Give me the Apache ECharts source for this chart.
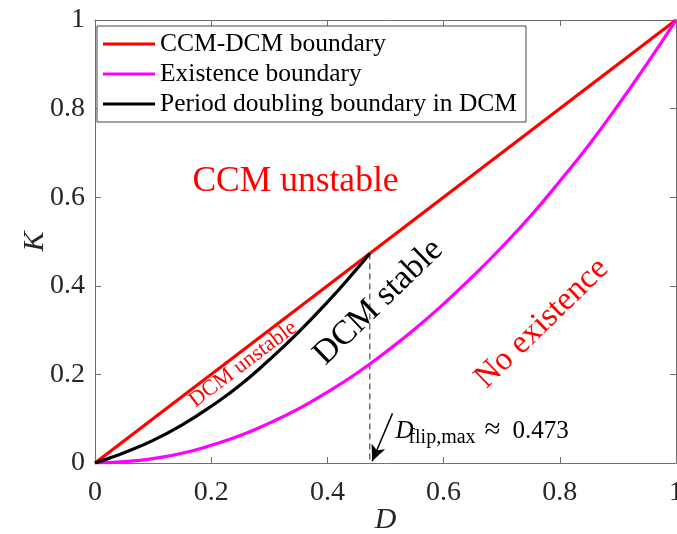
<!DOCTYPE html>
<html>
<head>
<meta charset="utf-8">
<script src="https://cdn.jsdelivr.net/npm/echarts@6/dist/echarts.min.js"></script>
<style>
  html, body { margin: 0; padding: 0; background: #fff; }
  #chart { width: 677px; height: 534px; }
</style>
</head>
<body>
<div id="chart"></div>
<script>
// 数据：边界曲线
const ccmD = [0, 1]
const ccmK = [0, 1]

const existD = [0, 0.05, 0.1, 0.15, 0.2, 0.25, 0.3, 0.35, 0.4, 0.45, 0.5, 0.55, 0.6, 0.65, 0.7, 0.75, 0.8, 0.85, 0.9, 0.95, 1]
const existK = [0, 0.003, 0.01, 0.022, 0.04, 0.062, 0.09, 0.122, 0.16, 0.202, 0.25, 0.302, 0.359, 0.421, 0.487, 0.558, 0.636, 0.718, 0.807, 0.901, 1]

const pdD = [0, 0.025, 0.05, 0.1, 0.15, 0.2, 0.25, 0.3, 0.35, 0.4, 0.45, 0.473]
const pdK = [0, 0.011, 0.023, 0.051, 0.086, 0.128, 0.176, 0.233, 0.295, 0.363, 0.437, 0.473]

const flipD = [0.473, 0.473]
const flipK = [0.473, 0]

const ticks = [0, 0.2, 0.4, 0.6, 0.8, 1]

const serif = '"Liberation Serif", "DejaVu Serif", serif'
const textColor = '#262626'
const boxColor = '#6e6e6e'

const zip = (xs, ys) => xs.map((x, i) => [x, ys[i]])
const tickFmt = v => ticks.includes(v) ? String(v) : ''

const chart = echarts.init(document.getElementById('chart'))

const axisCommon = {
  type: 'value',
  min: 0,
  max: 1,
  interval: 0.2,
  axisLine: { show: true, onZero: false, lineStyle: { color: boxColor, width: 1 } },
  axisTick: { show: true, inside: true, length: 6, lineStyle: { color: boxColor } },
  splitLine: { show: false }
}

const option = {
  animation: false,
  grid: { left: 95, right: 1, top: 20, bottom: 71, containLabel: false, outerBoundsMode: 'none' },
  xAxis: [
    {
      ...axisCommon,
      position: 'bottom',
      name: 'D',
      nameLocation: 'middle',
      nameGap: 42,
      nameMoveOverlap: false,
      nameTextStyle: { fontFamily: serif, fontStyle: 'italic', fontSize: 30, color: textColor },
      axisLabel: { fontFamily: serif, fontSize: 28, color: textColor, margin: 16, formatter: tickFmt, showMaxLabel: true }
    },
    { ...axisCommon, position: 'top', axisLabel: { show: false } }
  ],
  yAxis: [
    {
      ...axisCommon,
      position: 'left',
      name: 'K',
      nameLocation: 'middle',
      nameGap: 45,
      nameMoveOverlap: false,
      nameTextStyle: { fontFamily: serif, fontStyle: 'italic', fontSize: 30, color: textColor },
      axisLabel: { fontFamily: serif, fontSize: 28, color: textColor, margin: 10, formatter: tickFmt }
    },
    { ...axisCommon, position: 'right', axisLabel: { show: false } }
  ],
  legend: {
    orient: 'vertical',
    left: 97,
    top: 26,
    padding: [5, 9, 5, 6],
    icon: 'rect',
    itemWidth: 52,
    itemHeight: 3,
    itemGap: 4,
    backgroundColor: '#fff',
    borderColor: '#444',
    borderWidth: 1,
    borderRadius: 0,
    textStyle: { fontFamily: serif, fontSize: 25.5, color: '#000', lineHeight: 25.5 },
    data: ['CCM-DCM boundary', 'Existence boundary', 'Period doubling boundary in DCM']
  },
  series: [
    {
      name: 'CCM-DCM boundary',
      type: 'line',
      data: zip(ccmD, ccmK),
      showSymbol: false,
      symbol: 'none',
      lineStyle: { color: '#ff0000', width: 3.2 },
      itemStyle: { color: '#ff0000' },
      z: 3
    },
    {
      name: 'Existence boundary',
      type: 'line',
      data: zip(existD, existK),
      smooth: true,
      showSymbol: false,
      symbol: 'none',
      lineStyle: { color: '#ff00ff', width: 3.2 },
      itemStyle: { color: '#ff00ff' },
      z: 3
    },
    {
      name: 'Period doubling boundary in DCM',
      type: 'line',
      data: zip(pdD, pdK),
      smooth: true,
      showSymbol: false,
      symbol: 'none',
      lineStyle: { color: '#000', width: 3.2 },
      itemStyle: { color: '#000' },
      z: 4
    },
    {
      name: 'flip',
      type: 'line',
      data: zip(flipD, flipK),
      showSymbol: false,
      symbol: 'none',
      silent: true,
      lineStyle: { color: '#222', width: 1, type: [6, 4] },
      z: 2,
      markLine: {
        silent: true,
        symbol: ['none', 'arrow'],
        symbolSize: [11, 16],
        label: { show: false },
        lineStyle: { color: '#000', width: 1.5, type: 'solid' },
        data: [[{ coord: [0.512, 0.112] }, { coord: [0.477, 0.004] }]]
      }
    }
  ]
}

chart.setOption(option)

// 文字标注，按数据坐标放置
const at = (d, k) => chart.convertToPixel({ xAxisIndex: 0, yAxisIndex: 0 }, [d, k])
const deg = a => a * Math.PI / 180

const notes = [
  { text: 'CCM unstable', pos: [0.345, 0.634], size: 35.5, color: '#ff0000', rot: 0 },
  { text: 'DCM stable', pos: [0.488, 0.363], size: 34, color: '#000', rot: 44 },
  { text: 'No existence', pos: [0.769, 0.315], size: 33, color: '#ff0000', rot: 44 },
  { text: 'DCM unstable', pos: [0.255, 0.223], size: 22, color: '#ff0000', rot: 37 }
]

const graphics = notes.map(n => {
  const p = at(n.pos[0], n.pos[1])
  return {
    type: 'text',
    x: p[0],
    y: p[1],
    rotation: deg(n.rot),
    z: 10,
    style: {
      text: n.text,
      fontFamily: serif,
      fontSize: n.size,
      fill: n.color,
      align: 'center',
      verticalAlign: 'middle'
    }
  }
})

// D_flip,max ≈ 0.473
const a = at(0.517, 0.072)
const noteFont = (text, size, italic) => ({
  text, fontFamily: serif, fontStyle: italic ? 'italic' : 'normal', fontSize: size,
  fill: '#000', align: 'left', verticalAlign: 'middle'
})
graphics.push(
  { type: 'text', x: a[0], y: a[1], z: 10, style: noteFont('D', 25, true) },
  { type: 'text', x: a[0] + 13, y: a[1] + 7, z: 10, style: noteFont('flip,max', 20) },
  { type: 'text', x: a[0] + 89, y: a[1] - 1, z: 10, style: noteFont('≈', 29) },
  { type: 'text', x: a[0] + 117, y: a[1], z: 10, style: noteFont('0.473', 25) }
)

chart.setOption({ graphic: graphics })
</script>
</body>
</html>
